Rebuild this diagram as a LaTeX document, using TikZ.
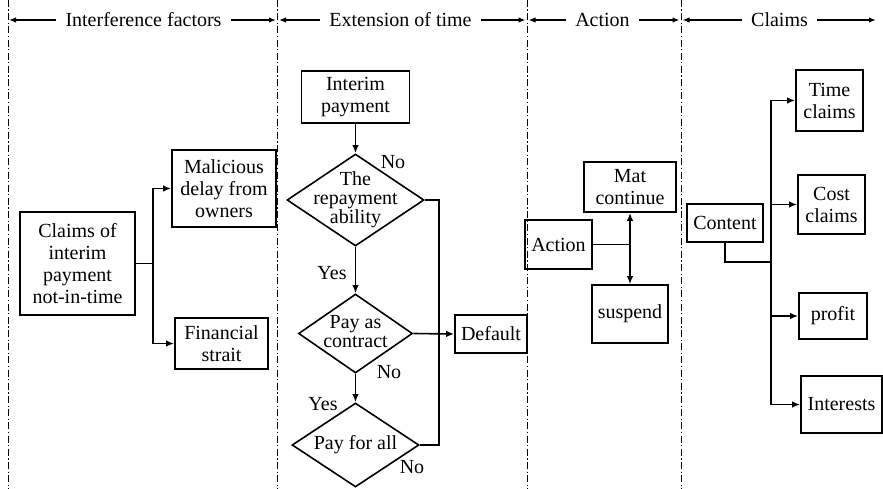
\documentclass[tikz,border=0pt]{standalone}
\usepackage{fontspec}
\setmainfont{Liberation Serif}
\usetikzlibrary{arrows.meta,shapes.geometric}
\begin{document}
\begin{tikzpicture}[x=1pt,y=-1pt,
  every node/.style={font=\fontsize{20}{22}\selectfont},
  box/.style={draw,line width=1.7pt,inner sep=0pt,align=center},
  dia/.style={draw,diamond,line width=1.6pt,inner sep=0pt},
  dtext/.style={align=center,inner sep=0pt,font=\fontsize{20}{19}\selectfont},
  lbl/.style={inner sep=0pt},
  head/.style={inner sep=9pt},
  link/.style={line width=1.6pt},
  arr/.style={link,-{Latex[length=8pt,width=6.5pt]}},
  harr/.style={line width=1.3pt,-{Latex[length=7pt,width=5.5pt]}},
  sep/.style={line width=1pt,dash pattern=on 7pt off 2.5pt on 1.2pt off 2.5pt}]
\useasboundingbox (0,0) rectangle (883,489);

% column separators
\foreach \x/\n in {8/s0,277.5/s1,527/s2,681/s3}{
  \coordinate (\n top) at (\x,0);
  \coordinate (\n bot) at (\x,489);
  \draw[sep] (\n top) -- (\n bot);
}

% column headings with their span arrows
\node[head] (h1) at (143.5,20) {Interference factors};
\node[head] (h2) at (400.5,20) {Extension of time};
\node[head] (h3) at (602.5,20) {Action};
\node[head] (h4) at (779.5,20) {Claims};
\coordinate (a0) at (9,20);
\coordinate (a1l) at (276,20);
\coordinate (a1r) at (279,20);
\coordinate (a2l) at (525.5,20);
\coordinate (a2r) at (528.5,20);
\coordinate (a3l) at (679.5,20);
\coordinate (a3r) at (682.5,20);
\coordinate (a4) at (876,20);
\draw[harr] (h1.west) -- (a0);
\draw[harr] (h1.east) -- (a1l);
\draw[harr] (h2.west) -- (a1r);
\draw[harr] (h2.east) -- (a2l);
\draw[harr] (h3.west) -- (a2r);
\draw[harr] (h3.east) -- (a3l);
\draw[harr] (h4.west) -- (a3r);
\draw[harr] (h4.east) -- (a4);

% interference factors
\node[box,minimum width=115pt,minimum height=103pt] (cl) at (77.5,263.5) {Claims of\\interim\\payment\\not-in-time};
\node[box,minimum width=104pt,minimum height=77pt] (mal) at (224,188.5) {Malicious\\delay from\\owners};
\node[box,minimum width=93pt,minimum height=51pt] (fin) at (221.5,343.5) {Financial\\strait};
\coordinate (j1) at (153,263.5);
\draw[link] (cl.east) -- (j1);
\draw[arr] (j1) |- (mal.west);
\draw[arr] (j1) |- (fin.west);

% extension of time
\node[box,minimum width=108pt,minimum height=52pt] (ip) at (355.5,97) {Interim\\payment};
\node[dia,minimum width=137pt,minimum height=92pt] (d1) at (355.5,200) {};
\node[dtext] at (d1) {The\\repayment\\ability};
\node[dia,minimum width=114pt,minimum height=79pt] (d2) at (355.5,333.5) {};
\node[dtext] at (355.5,331.5) {Pay as\\contract};
\node[dia,minimum width=127pt,minimum height=84pt] (d3) at (355.5,445) {};
\node[dtext] at (d3) {Pay for all};
\node[box,minimum width=72pt,minimum height=38pt] (def) at (491,334) {Default};
\draw[arr] (ip.south) -- (d1.north);
\draw[arr] (d1.south) -- (d2.north);
\draw[arr] (d2.south) -- (d3.north);
\draw[arr] (d2.east) -- (def.west);
\coordinate (k1) at (439,445);
\draw[link] (d1.east) -| (k1) -- (d3.east);
\node[lbl] at (393,162) {No};
\node[lbl] at (332,273) {Yes};
\node[lbl] at (389,372) {No};
\node[lbl] at (323,404) {Yes};
\node[lbl] at (412,467) {No};

% action
\node[box,minimum width=67pt,minimum height=49pt] (act) at (558.5,244.5) {Action};
\node[box,minimum width=92pt,minimum height=50pt] (mat) at (630,187) {Mat\\continue};
\node[box,minimum width=76pt,minimum height=58pt] (sus) at (630,314) {suspend};
\coordinate (j2) at (630,244.5);
\draw[link] (act.east) -- (j2);
\draw[arr] (j2) -- (mat.south);
\draw[arr] (j2) -- (sus.north);

% claims
\node[box,minimum width=76pt,minimum height=38pt] (con) at (725,223) {Content};
\node[box,minimum width=67pt,minimum height=61pt] (tc) at (829.5,100.5) {Time\\claims};
\node[box,minimum width=67pt,minimum height=59pt] (cc) at (831.5,204.5) {Cost\\claims};
\node[box,minimum width=68pt,minimum height=46pt] (pr) at (833,316) {profit};
\node[box,minimum width=81pt,minimum height=57pt] (int) at (841.5,404.5) {Interests};
\coordinate (j3) at (771,262);
\draw[link] (con.south) |- (j3);
\draw[arr] (j3) |- (tc.west);
\draw[arr] (j3) |- (cc.west);
\draw[arr] (j3) |- (pr.west);
\draw[arr] (j3) |- (int.west);
\end{tikzpicture}
\end{document}
